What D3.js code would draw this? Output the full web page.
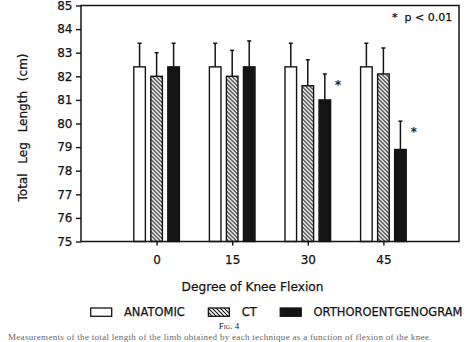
<!DOCTYPE html>
<html>
<head>
<meta charset="utf-8">
<script src="https://cdn.jsdelivr.net/npm/d3@7"></script>
<style>
  body { margin: 0; background: #fff; }
  text { font-family: "DejaVu Sans", sans-serif; fill: #141414; }
  .heavy { stroke: #141414; stroke-width: 0.25px; }
</style>
</head>
<body>
<div id="chart"></div>
<script>
// knee flexion angles (degrees) and the three measuring methods
const angles = [0, 15, 30, 45];
const methods = ["ANATOMIC", "CT", "ORTHOROENTGENOGRAM"];

// mean total leg length (cm) and SD for each method
const anatomicMean = [82.4, 82.4, 82.4, 82.4];
const anatomicSD = [1.0, 1.0, 1.0, 1.0];
const ctMean = [82.0, 82.0, 81.6, 82.1];
const ctSD = [1.0, 1.1, 1.1, 1.1];
const orthoMean = [82.4, 82.4, 81.0, 78.9];
const orthoSD = [1.0, 1.1, 1.1, 1.2];
// p < 0.01 flags for the orthoroentgenogram bars
const orthoSignificant = [false, false, true, true];

const yTicks = [75, 76, 77, 78, 79, 80, 81, 82, 83, 84, 85];

const ink = "#141414";

let svgWidth = 474;
let svgHeight = 342;
let margin = { top: 5.5, right: 15, bottom: 100.5, left: 81 };
let width = svgWidth - margin.left - margin.right;
let height = svgHeight - margin.top - margin.bottom;

let svg = d3.select("#chart")
    .append("svg")
    .attr("width", svgWidth)
    .attr("height", svgHeight);

// diagonal hatch for the CT bars
svg.append("defs").append("pattern")
    .attr("id", "hatch")
    .attr("patternUnits", "userSpaceOnUse")
    .attr("width", 4)
    .attr("height", 4)
  .append("path")
    .attr("d", "M-1,-1 L5,5 M-1,3 L1,5 M3,-1 L5,1")
    .attr("stroke", ink)
    .attr("stroke-width", 1.2);

let fills = { "ANATOMIC": "#fff", "CT": "url(#hatch)", "ORTHOROENTGENOGRAM": ink };

let chartGroup = svg.append("g")
    .attr("transform", `translate(${margin.left},${margin.top})`);

// scales
let xScale = d3.scaleLinear().domain([-15, 60]).range([0, width]);
let yScale = d3.scaleLinear().domain([75, 85]).range([height, 0]);
let subScale = d3.scaleBand()
    .domain(methods)
    .range([-22.8, 22.8])
    .paddingInner(0.32);

// rows: one per bar
let rows = [];
angles.forEach((a, i) => {
    rows.push({ angle: a, method: "ANATOMIC", mean: anatomicMean[i], sd: anatomicSD[i], sig: false });
    rows.push({ angle: a, method: "CT", mean: ctMean[i], sd: ctSD[i], sig: false });
    rows.push({ angle: a, method: "ORTHOROENTGENOGRAM", mean: orthoMean[i], sd: orthoSD[i], sig: orthoSignificant[i] });
});

// bars
chartGroup.selectAll("rect.bar")
    .data(rows)
    .enter()
    .append("rect")
    .attr("class", "bar")
    .attr("x", d => xScale(d.angle) + subScale(d.method))
    .attr("y", d => yScale(d.mean))
    .attr("width", subScale.bandwidth())
    .attr("height", d => yScale(75) - yScale(d.mean))
    .attr("fill", d => fills[d.method])
    .attr("stroke", ink)
    .attr("stroke-width", 1.4);

// upper error bars
let errs = chartGroup.selectAll("g.err")
    .data(rows)
    .enter()
    .append("g")
    .attr("class", "err")
    .attr("stroke", ink)
    .attr("stroke-width", 1.5);
errs.append("line")
    .attr("x1", d => xScale(d.angle) + subScale(d.method) + subScale.bandwidth() / 2)
    .attr("x2", d => xScale(d.angle) + subScale(d.method) + subScale.bandwidth() / 2)
    .attr("y1", d => yScale(d.mean))
    .attr("y2", d => yScale(d.mean + d.sd));
errs.append("line")
    .attr("x1", d => xScale(d.angle) + subScale(d.method) + subScale.bandwidth() / 2 - 2)
    .attr("x2", d => xScale(d.angle) + subScale(d.method) + subScale.bandwidth() / 2 + 2)
    .attr("y1", d => yScale(d.mean + d.sd))
    .attr("y2", d => yScale(d.mean + d.sd));

// significance asterisks
chartGroup.selectAll("text.star")
    .data(rows.filter(d => d.sig))
    .enter()
    .append("text")
    .attr("class", "star heavy")
    .attr("x", d => xScale(d.angle) + subScale(d.method) + subScale.bandwidth() + 4.5)
    .attr("y", d => yScale(d.mean + d.sd) + 15)
    .attr("font-size", "12px")
    .text("*");

// frame
chartGroup.append("rect")
    .attr("width", width)
    .attr("height", height)
    .attr("fill", "none")
    .attr("stroke", ink)
    .attr("stroke-width", 1.5);

// axes
let leftAxis = d3.axisLeft(yScale).tickValues(yTicks).tickSize(5).tickPadding(3.5);
let bottomAxis = d3.axisBottom(xScale).tickValues(angles).tickSize(4).tickPadding(10);

let yAxisG = chartGroup.append("g").call(leftAxis);
let xAxisG = chartGroup.append("g")
    .attr("transform", `translate(0,${height})`)
    .call(bottomAxis);
[yAxisG, xAxisG].forEach(g => {
    g.select(".domain").remove();
    g.selectAll("line").attr("stroke", ink).attr("stroke-width", 1.4);
    g.selectAll("text")
        .attr("class", "heavy")
        .attr("font-family", "DejaVu Sans")
        .attr("font-size", "12px")
        .attr("fill", ink);
});

// axis titles
svg.append("text")
    .attr("class", "heavy")
    .attr("transform", "translate(27,127.5) rotate(-90)")
    .attr("text-anchor", "middle")
    .attr("font-size", "12px")
    .style("word-spacing", "6px")
    .text("Total Leg Length (cm)");

svg.append("text")
    .attr("class", "heavy")
    .attr("x", 252.5)
    .attr("y", 290.5)
    .attr("text-anchor", "middle")
    .attr("font-size", "12.2px")
    .text("Degree of Knee Flexion");

// p-value note
svg.append("text")
    .attr("class", "heavy")
    .attr("x", 392)
    .attr("y", 20.5)
    .attr("font-size", "11px")
    .style("white-space", "pre")
    .text("*  p < 0.01");

// legend
let legendX = 90.7;
methods.forEach(m => {
    svg.append("rect")
        .attr("x", legendX)
        .attr("y", 308)
        .attr("width", 21)
        .attr("height", 8.3)
        .attr("fill", fills[m])
        .attr("stroke", ink)
        .attr("stroke-width", 1.3);
    let t = svg.append("text")
        .attr("class", "heavy")
        .attr("x", legendX + 33.3)
        .attr("y", 316.3)
        .attr("font-size", "11.5px")
        .text(m);
    legendX += 33.3 + t.node().getComputedTextLength() + 23.5;
});

// figure caption
svg.append("text")
    .attr("x", 229)
    .attr("y", 328.8)
    .attr("text-anchor", "middle")
    .attr("font-size", "9px")
    .style("font-variant", "small-caps")
    .style("font-family", "Liberation Serif, serif")
    .text("Fig. 4");

svg.append("text")
    .attr("x", 8)
    .attr("y", 340)
    .attr("font-size", "9px")
    .style("font-family", "Liberation Serif, serif")
    .style("fill", "#666")
    .style("letter-spacing", "0.3px")
    .text("Measurements of the total length of the limb obtained by each technique as a function of flexion of the knee.");
</script>
</body>
</html>
